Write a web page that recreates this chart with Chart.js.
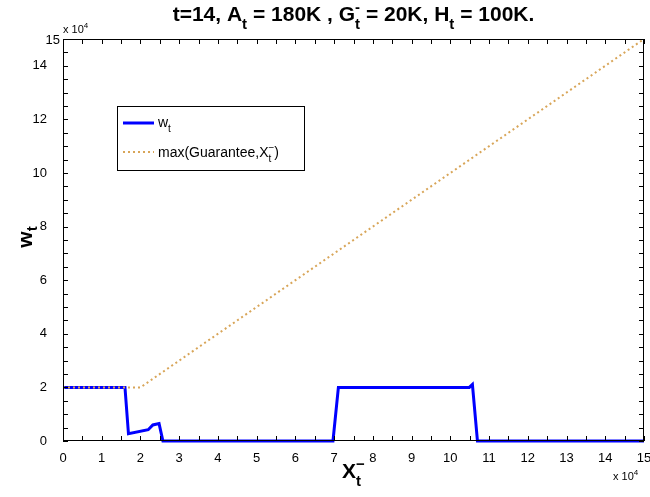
<!DOCTYPE html>
<html>
<head>
<meta charset="utf-8">
<script src="https://cdn.jsdelivr.net/npm/chart.js@4/dist/chart.umd.min.js"></script>
<style>
  html, body { margin: 0; padding: 0; background: #fff; }
  #wrap { width: 650px; height: 497px; }
</style>
</head>
<body>
<div id="wrap"><canvas id="wChart" width="650" height="497"></canvas></div>
<script>
// wealth w_t against X_t^- at t=14
const xPoints = [0, 16000, 16900, 22000, 23200, 24800, 25800, 69700, 71100, 104900, 105700, 107000, 150000];
const wValues = [20000, 20000, 2700, 4200, 6000, 6500, 0, 0, 20000, 20000, 21100, 0, 0];

// max(Guarantee, X_t^-)
const guarX = [0, 20000, 150000];
const guarY = [20000, 20000, 150000];

const xTickStep = 5000;
const yTickStep = 5000;
const axisMax = 150000;

const FONT = '"Liberation Sans", Arial, Helvetica, sans-serif';

// draws text made of pieces: n = normal, sub, sup, subsup = stacked [sub, sup]
function richWidth(ctx, parts, size, bold) {
  let w = 0;
  parts.forEach(p => {
    if (p[0] === 'n') {
      ctx.font = (bold ? 'bold ' : '') + size + 'px ' + FONT;
      w += ctx.measureText(p[1]).width;
    } else if (p[0] === 'subsup') {
      ctx.font = (bold ? 'bold ' : '') + Math.round(size * 0.7) + 'px ' + FONT;
      w += Math.max(ctx.measureText(p[1]).width, ctx.measureText(p[2]).width);
    } else {
      ctx.font = (bold ? 'bold ' : '') + Math.round(size * 0.7) + 'px ' + FONT;
      w += ctx.measureText(p[1]).width;
    }
  });
  return w;
}

function drawRich(ctx, parts, x, y, size, bold, align, subShift) {
  const total = richWidth(ctx, parts, size, bold);
  const down = size * (subShift === undefined ? 0.38 : subShift);
  let cx = align === 'center' ? x - total / 2 : (align === 'right' ? x - total : x);
  ctx.textAlign = 'left';
  ctx.textBaseline = 'alphabetic';
  const small = Math.round(size * 0.7);
  parts.forEach(p => {
    if (p[0] === 'n') {
      ctx.font = (bold ? 'bold ' : '') + size + 'px ' + FONT;
      ctx.fillText(p[1], cx, y);
      cx += ctx.measureText(p[1]).width;
    } else if (p[0] === 'sub') {
      ctx.font = (bold ? 'bold ' : '') + small + 'px ' + FONT;
      ctx.fillText(p[1], cx, y + down);
      cx += ctx.measureText(p[1]).width;
    } else if (p[0] === 'sup') {
      ctx.font = (bold ? 'bold ' : '') + small + 'px ' + FONT;
      ctx.fillText(p[1], cx, y - size * 0.45);
      cx += ctx.measureText(p[1]).width;
    } else {
      ctx.font = (bold ? 'bold ' : '') + small + 'px ' + FONT;
      ctx.fillText(p[1], cx, y + down);
      ctx.fillText(p[2], cx, y - size * 0.45);
      cx += Math.max(ctx.measureText(p[1]).width, ctx.measureText(p[2]).width);
    }
  });
}

const framePlugin = {
  id: 'framePlugin',
  afterDraw(chart) {
    const ctx = chart.ctx;
    const a = chart.chartArea;
    const xs = chart.scales.x;
    const ys = chart.scales.y;
    ctx.save();

    // axes box
    ctx.strokeStyle = '#000';
    ctx.lineWidth = 1;
    ctx.strokeRect(a.left + 0.5, a.top + 0.5, a.right - a.left - 1, a.bottom - a.top - 1);

    // inward tick marks on all four sides
    ctx.beginPath();
    for (let v = 0; v <= axisMax; v += xTickStep) {
      const px = Math.round(xs.getPixelForValue(v)) + 0.5;
      ctx.moveTo(px, a.bottom); ctx.lineTo(px, a.bottom - 5);
      ctx.moveTo(px, a.top); ctx.lineTo(px, a.top + 5);
    }
    for (let v = 0; v <= axisMax; v += yTickStep) {
      const py = Math.round(ys.getPixelForValue(v)) + 0.5;
      ctx.moveTo(a.left, py); ctx.lineTo(a.left + 5, py);
      ctx.moveTo(a.right, py); ctx.lineTo(a.right - 5, py);
    }
    ctx.stroke();

    ctx.fillStyle = '#000';

    // top y tick label sits closer to the axis
    ctx.font = '13px ' + FONT;
    ctx.textAlign = 'right';
    ctx.textBaseline = 'middle';
    ctx.fillText(String(axisMax / 10000), a.left - 3, ys.getPixelForValue(axisMax) + 1);

    // title
    drawRich(ctx, [
      ['n', 't=14, A'], ['sub', 't'], ['n', ' = 180K , G'], ['subsup', 't', '-'],
      ['n', ' = 20K, H'], ['sub', 't'], ['n', ' = 100K.']
    ], (a.left + a.right) / 2, 21, 21, true, 'center');

    // exponent labels
    drawRich(ctx, [['n', 'x 10'], ['sup', '4']], a.left, 33, 11, false, 'left');
    drawRich(ctx, [['n', 'x 10'], ['sup', '4']], a.right - 31, 480, 11, false, 'left');

    // x axis label
    drawRich(ctx, [['n', 'X'], ['subsup', 't', '\u2212']], (a.left + a.right) / 2, 478, 21, true, 'center');

    // y axis label
    ctx.save();
    ctx.translate(32, 237);
    ctx.rotate(-Math.PI / 2);
    drawRich(ctx, [['n', 'w'], ['sub', 't']], 0, 0, 21, true, 'center', 0.25);
    ctx.restore();

    // legend
    const lx = 117, ly = 106, lw = 187, lh = 64;
    ctx.fillStyle = '#fff';
    ctx.fillRect(lx, ly, lw, lh);
    ctx.strokeStyle = '#000';
    ctx.lineWidth = 1;
    ctx.strokeRect(lx + 0.5, ly + 0.5, lw, lh);

    ctx.strokeStyle = '#0000ff';
    ctx.lineWidth = 3;
    ctx.beginPath();
    ctx.moveTo(123, 123); ctx.lineTo(154, 123);
    ctx.stroke();

    ctx.strokeStyle = '#d8a558';
    ctx.lineWidth = 2;
    ctx.setLineDash([2, 3]);
    ctx.beginPath();
    ctx.moveTo(123, 152); ctx.lineTo(154, 152);
    ctx.stroke();
    ctx.setLineDash([]);

    ctx.fillStyle = '#000';
    drawRich(ctx, [['n', 'w'], ['sub', 't']], 158, 127, 14, false, 'left');
    drawRich(ctx, [['n', 'max(Guarantee,X'], ['subsup', 't', '\u2212'], ['n', ')']], 158, 157, 14, false, 'left');

    ctx.restore();
  }
};

const guarData = guarX.map((x, i) => ({ x: x, y: guarY[i] }));
const wData = xPoints.map((x, i) => ({ x: x, y: wValues[i] }));

const ctx = document.getElementById('wChart').getContext('2d');
new Chart(ctx, {
  type: 'line',
  data: {
    datasets: [
      {
        label: 'max(Guarantee,X_t^-)',
        data: guarData,
        borderColor: '#d8a558',
        borderWidth: 2,
        borderDash: [2, 3],
        pointRadius: 0,
        tension: 0,
        clip: false,
        order: 0
      },
      {
        label: 'w_t',
        data: wData,
        borderColor: '#0000ff',
        borderWidth: 3,
        pointRadius: 0,
        tension: 0,
        clip: false,
        order: 1
      }
    ]
  },
  options: {
    responsive: false,
    animation: false,
    events: [],
    layout: { padding: { left: 0, top: 39, right: 6, bottom: 0 } },
    plugins: {
      legend: { display: false },
      title: { display: false },
      tooltip: { enabled: false }
    },
    scales: {
      x: {
        type: 'linear',
        min: 0,
        max: axisMax,
        grid: { display: false },
        border: { display: false },
        afterFit: s => { s.height = 56; s.paddingLeft = 0; s.paddingRight = 0; },
        ticks: {
          stepSize: xTickStep,
          autoSkip: false,
          maxRotation: 0,
          padding: 2,
          color: '#000',
          font: { family: FONT, size: 13 },
          callback: v => (v % 10000 === 0 ? String(v / 10000) : '')
        }
      },
      y: {
        type: 'linear',
        min: 0,
        max: axisMax,
        grid: { display: false },
        border: { display: false },
        afterFit: s => { s.width = 63; s.paddingTop = 0; s.paddingBottom = 0; },
        ticks: {
          stepSize: yTickStep,
          autoSkip: false,
          padding: 8,
          color: '#000',
          font: { family: FONT, size: 13 },
          callback: v => (v % 20000 === 0 ? String(v / 10000) : '')
        }
      }
    }
  },
  plugins: [framePlugin]
});
</script>
</body>
</html>
